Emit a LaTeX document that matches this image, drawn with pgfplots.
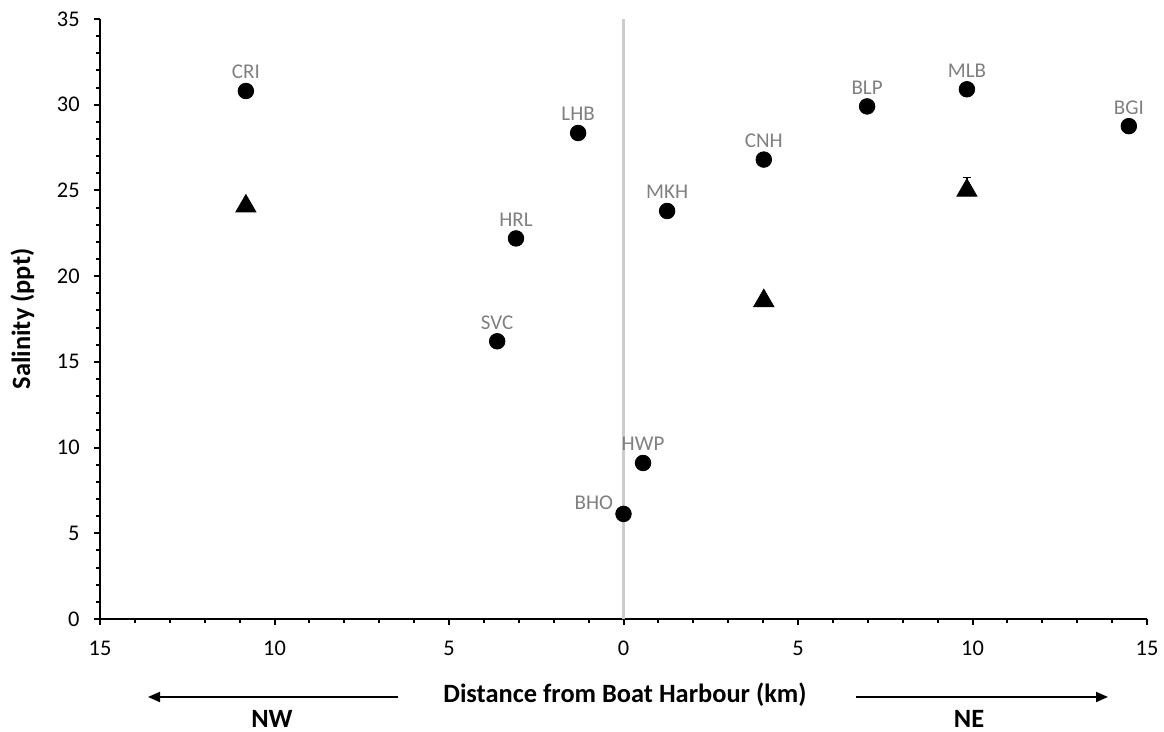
\documentclass[border=0pt]{standalone}
\usepackage{fontspec}
\setmainfont{Carlito}
\usepackage{pgfplots}
\pgfplotsset{compat=1.18}
\usetikzlibrary{arrows.meta}
\definecolor{lblgray}{HTML}{808080}
\definecolor{zeroline}{HTML}{CCCCCC}
\begin{document}
\fontsize{13.2}{15}\selectfont
\begin{tikzpicture}
\begin{axis}[
  at={(50pt,56.5pt)}, anchor=south west,
  width=523.5pt, height=300pt, scale only axis,
  xmin=-15, xmax=15, ymin=0, ymax=35,
  axis lines=left, axis line style={-, line width=1.2pt},
  xtick={-15,-10,-5,0,5,10,15}, xticklabels={15,10,5,0,5,10,15},
  ytick={0,5,...,35},
  minor x tick num=4, minor y tick num=4,
  tick align=outside,
  major tick length=3pt, minor tick length=2pt,
  every tick/.style={black, line width=1pt},
  tick label style={font=\fontsize{11.2}{13}\selectfont, inner sep=0pt},
  /pgf/number format/assume math mode=true,
  xticklabel style={anchor=north, yshift=-8pt},
  yticklabel style={anchor=east, xshift=-7pt},
  clip=false,
]
\addplot[zeroline, line width=1.5pt, forget plot] coordinates {(0,0) (0,35)};
\addplot[only marks, mark=triangle*, mark size=5.8pt, black,
  mark options={yshift=-1.45pt, fill=black},
  error bars/.cd, y dir=plus, y explicit,
  error bar style={line width=0.8pt, black},
  error mark options={rotate=90, mark size=2pt, line width=0.8pt, black}]
  table[x=x, y=y, y error=e] {
x y e
-10.82 24.25 0
4.02 18.73 0
9.84 25.17 0.58
};
\addplot[only marks, mark=*, mark size=3.9pt, black, mark options={fill=black},
  nodes near coords, point meta=explicit symbolic,
  nodes near coords style={anchor=base, yshift=6pt, inner sep=0pt, text=lblgray, font=\fontsize{10.5}{12}\selectfont}]
  table[x=x, y=y, meta=lab] {
x y lab
-10.82 30.8 CRI
-1.30 28.35 LHB
-3.08 22.2 HRL
-3.62 16.2 SVC
0.56 9.1 HWP
1.25 23.8 MKH
4.02 26.8 CNH
6.98 29.9 BLP
9.84 30.9 MLB
14.48 28.75 BGI
};
\addplot[only marks, mark=*, mark size=3.9pt, black, mark options={fill=black},
  nodes near coords, point meta=explicit symbolic,
  nodes near coords style={anchor=base east, xshift=-5pt, yshift=2pt, inner sep=0pt, text=lblgray, font=\fontsize{10.5}{12}\selectfont}]
  table[x=x, y=y, meta=lab] {
x y lab
0 6.13 BHO
};
\end{axis}
\node[rotate=90, font=\bfseries, anchor=base, inner sep=0pt] at (15pt,206.5pt) {Salinity (ppt)};
\node[font=\bfseries, anchor=base, inner sep=0pt] at (312.5pt,14.5pt) {Distance from Boat Harbour (km)};
\draw[-{Triangle[length=6pt,width=5pt]}, line width=1pt] (199pt,17.5pt) -- (74pt,17.5pt);
\draw[-{Triangle[length=6pt,width=5pt]}, line width=1pt] (428pt,17.5pt) -- (554pt,17.5pt);
\node[font=\bfseries, inner sep=0pt] at (136pt,6.5pt) {NW};
\node[font=\bfseries, inner sep=0pt] at (484.5pt,6.5pt) {NE};
\pgfresetboundingbox
\path[use as bounding box] (0,0) rectangle (582pt,366pt);
\end{tikzpicture}
\end{document}
